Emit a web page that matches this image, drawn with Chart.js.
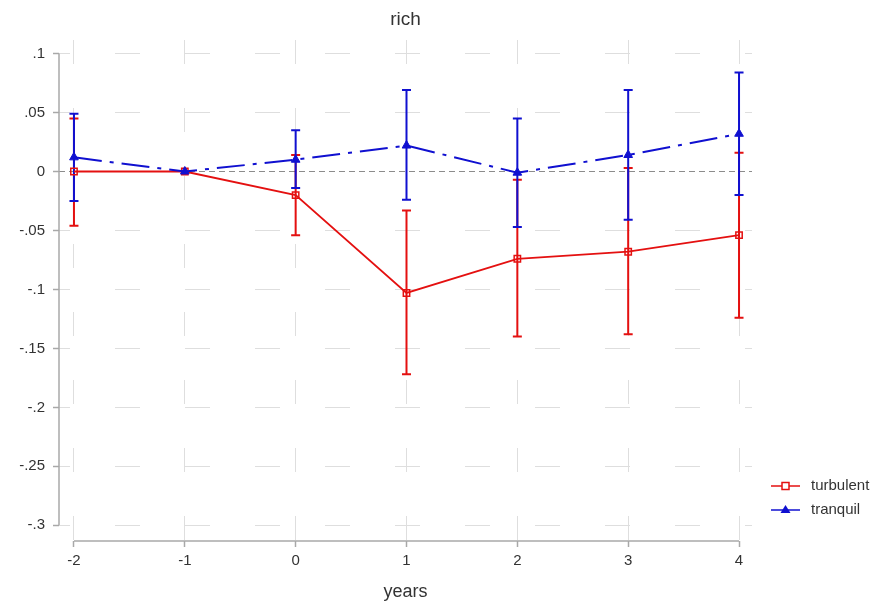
<!DOCTYPE html>
<html>
<head>
<meta charset="utf-8">
<script src="https://cdn.jsdelivr.net/npm/chart.js@4.4.0/dist/chart.umd.min.js"></script>
<style>
  html, body { margin: 0; padding: 0; background: #fff; }
  #wrap { width: 889px; height: 607px; position: relative; }
</style>
</head>
<body>
<div id="wrap"><canvas id="c" width="889" height="607"></canvas></div>
<script>
// ---- data ----
const years = [-2, -1, 0, 1, 2, 3, 4];
const turbulent = [0, 0, -0.020, -0.103, -0.074, -0.068, -0.054];
const turbulentLo = [-0.046, null, -0.054, -0.172, -0.140, -0.138, -0.124];
const turbulentHi = [0.045, null, 0.014, -0.033, -0.007, 0.003, 0.016];
const tranquil = [0.012, 0, 0.010, 0.022, -0.001, 0.014, 0.032];
const tranquilLo = [-0.025, null, -0.014, -0.024, -0.047, -0.041, -0.020];
const tranquilHi = [0.049, null, 0.035, 0.069, 0.045, 0.069, 0.084];
const xTicks = [-2, -1, 0, 1, 2, 3, 4];
const xTickLabels = ['-2', '-1', '0', '1', '2', '3', '4'];
const yTicks = [0.1, 0.05, 0, -0.05, -0.1, -0.15, -0.2, -0.25, -0.3];
const yTickLabels = ['.1', '.05', '0', '-.05', '-.1', '-.15', '-.2', '-.25', '-.3'];
const seriesNames = ['turbulent', 'tranquil'];

const RED = '#e41010';
const BLUE = '#1010d0';
const FONT = "'Liberation Sans', Arial, Helvetica, sans-serif";
const TEXT = '#333333';
const AXIS = '#a8a8a8';
const GRID = '#dedede';

const toPts = (ys) => years.map((x, i) => ({ x: x, y: ys[i] }));

const errorSets = [
  { lo: turbulentLo, hi: turbulentHi, color: RED },
  { lo: tranquilLo, hi: tranquilHi, color: BLUE }
];

const customPlugin = {
  id: 'custom',
  beforeDatasetsDraw(chart) {
    const ctx = chart.ctx;
    const xs = chart.scales.x, ys = chart.scales.y;
    const ca = chart.chartArea;
    ctx.save();
    // zero reference line
    ctx.strokeStyle = '#8c8c8c';
    ctx.lineWidth = 1;
    ctx.setLineDash([6, 4]);
    ctx.beginPath();
    ctx.moveTo(ca.left, ys.getPixelForValue(0));
    ctx.lineTo(ca.right, ys.getPixelForValue(0));
    ctx.stroke();
    ctx.setLineDash([]);
    // axis lines
    ctx.strokeStyle = AXIS;
    ctx.lineWidth = 1.5;
    ctx.beginPath();
    ctx.moveTo(ca.left, ys.getPixelForValue(yTicks[0]));
    ctx.lineTo(ca.left, ys.getPixelForValue(yTicks[yTicks.length - 1]));
    ctx.stroke();
    ctx.beginPath();
    ctx.moveTo(xs.getPixelForValue(xTicks[0]), ca.bottom);
    ctx.lineTo(xs.getPixelForValue(xTicks[xTicks.length - 1]), ca.bottom);
    ctx.stroke();
    // error bars
    errorSets.forEach(s => {
      ctx.strokeStyle = s.color;
      ctx.lineWidth = 2;
      years.forEach((x, i) => {
        if (s.lo[i] === null) return;
        const px = xs.getPixelForValue(x);
        const p1 = ys.getPixelForValue(s.lo[i]);
        const p2 = ys.getPixelForValue(s.hi[i]);
        ctx.beginPath();
        ctx.moveTo(px, p1); ctx.lineTo(px, p2);
        ctx.moveTo(px - 4.5, p1); ctx.lineTo(px + 4.5, p1);
        ctx.moveTo(px - 4.5, p2); ctx.lineTo(px + 4.5, p2);
        ctx.stroke();
      });
    });
    ctx.restore();
  },
  afterDraw(chart) {
    const ctx = chart.ctx;
    const ca = chart.chartArea;
    ctx.save();
    // title
    ctx.fillStyle = TEXT;
    ctx.font = '19px ' + FONT;
    ctx.textAlign = 'center';
    ctx.textBaseline = 'middle';
    ctx.fillText('rich', (ca.left + ca.right) / 2, 20);
    // legend
    const items = [
      { name: seriesNames[0], color: RED, style: 'square' },
      { name: seriesNames[1], color: BLUE, style: 'triangle' }
    ];
    items.forEach((it, k) => {
      const y = 486 + k * 24;
      ctx.strokeStyle = it.color;
      ctx.lineWidth = 1.5;
      ctx.beginPath();
      ctx.moveTo(771, y); ctx.lineTo(800, y);
      ctx.stroke();
      const cx = 785.5;
      if (it.style === 'square') {
        ctx.fillStyle = '#fff';
        ctx.fillRect(cx - 3.5, y - 3.5, 7, 7);
        ctx.strokeRect(cx - 3.5, y - 3.5, 7, 7);
      } else {
        ctx.fillStyle = it.color;
        ctx.beginPath();
        ctx.moveTo(cx, y - 5); ctx.lineTo(cx + 5, y + 3); ctx.lineTo(cx - 5, y + 3);
        ctx.closePath();
        ctx.fill();
      }
      ctx.fillStyle = TEXT;
      ctx.font = '15px ' + FONT;
      ctx.textAlign = 'left';
      ctx.textBaseline = 'middle';
      ctx.fillText(it.name, 811, y);
    });
    ctx.restore();
  }
};

new Chart(document.getElementById('c'), {
  type: 'line',
  data: {
    datasets: [
      {
        label: seriesNames[1],
        data: toPts(tranquil),
        borderColor: BLUE,
        backgroundColor: BLUE,
        borderWidth: 2,
        borderDash: [28, 8, 4, 8],
        pointStyle: 'triangle',
        pointRadius: 5,
        pointBorderWidth: 1,
        pointBackgroundColor: BLUE,
        tension: 0,
        order: 0
      },
      {
        label: seriesNames[0],
        data: toPts(turbulent),
        borderColor: RED,
        backgroundColor: 'rgba(0,0,0,0)',
        borderWidth: 1.8,
        pointStyle: 'rect',
        pointRadius: 4.5,
        pointBorderWidth: 1.5,
        pointBackgroundColor: 'rgba(255,255,255,0)',
        tension: 0,
        order: 1
      }
    ]
  },
  options: {
    responsive: false,
    animation: false,
    events: [],
    layout: { padding: { left: 0, right: 137, top: 40, bottom: 0 } },
    plugins: { legend: { display: false }, title: { display: false }, tooltip: { enabled: false } },
    scales: {
      x: {
        type: 'linear',
        min: -2.135,
        max: 4.117,
        afterBuildTicks: (s) => { s.ticks = xTicks.map(v => ({ value: v })); },
        afterFit: (s) => { s.height = 66; },
        border: { display: false, dash: [24, 44], dashOffset: 0 },
        grid: {
          color: GRID,
          lineWidth: 1,
          drawTicks: true,
          tickLength: 6,
          tickColor: AXIS,
          tickWidth: 1.5,
          tickBorderDash: []
        },
        ticks: {
          padding: 5,
          color: TEXT,
          font: { family: FONT, size: 15 },
          maxRotation: 0,
          autoSkip: false,
          callback: (v) => { const i = xTicks.indexOf(v); return i >= 0 ? xTickLabels[i] : ''; }
        },
        title: {
          display: true,
          text: 'years',
          color: TEXT,
          font: { family: FONT, size: 18 },
          padding: { top: 0, bottom: 4 }
        }
      },
      y: {
        type: 'linear',
        min: -0.3133,
        max: 0.1115,
        afterBuildTicks: (s) => { s.ticks = yTicks.map(v => ({ value: v })); },
        afterFit: (s) => { s.width = 59; },
        border: { display: false, dash: [25, 45], dashOffset: 14 },
        grid: {
          color: (c) => (c.tick && c.tick.value === 0 ? 'rgba(0,0,0,0)' : GRID),
          lineWidth: 1,
          drawTicks: true,
          tickLength: 6,
          tickColor: AXIS,
          tickWidth: 1.5,
          tickBorderDash: []
        },
        ticks: {
          padding: 8,
          color: TEXT,
          font: { family: FONT, size: 15 },
          autoSkip: false,
          callback: (v) => { const i = yTicks.findIndex(t => Math.abs(t - v) < 1e-9); return i >= 0 ? yTickLabels[i] : ''; }
        }
      }
    }
  },
  plugins: [customPlugin]
});
</script>
</body>
</html>
